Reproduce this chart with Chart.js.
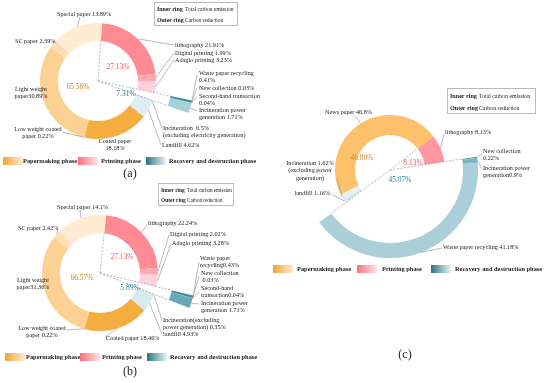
<!DOCTYPE html>
<html>
<head>
<meta charset="utf-8">
<script src="https://cdn.jsdelivr.net/npm/chart.js@4"></script>
<style>
  body { margin: 0; background: #fff; }
  #page { position: relative; width: 550px; height: 383px; overflow: hidden; }
  #page canvas { position: absolute; left: 0; top: 0; }
</style>
</head>
<body>
<div id="page">
  <canvas id="chartA" width="550" height="383"></canvas>
  <canvas id="chartB" width="550" height="383"></canvas>
  <canvas id="chartC" width="550" height="383"></canvas>
</div>
<script>
// ---- data -------------------------------------------------------------
const phaseNames = ['Papermaking phase', 'Printing phase', 'Recovery and destruction phase'];

// panel (a) and (b) share the same items, clockwise from the printing phase
const itemsAB = ['lithography', 'Digital printing', 'Adagio printing', 'Waste paper recycling',
  'New collection', 'Second-hand transaction', 'Incineration power generation', 'Incineration',
  'Landfill', 'Coated paper', 'Low weight coated paper', 'Light weight paper', 'SC paper', 'Special paper'];
const valuesA = [21.91, 1.99, 3.23, 0.41, 0.03, 0.04, 1.71, 0.5, 4.62, 18.18, 0.22, 30.89, 2.39, 13.89];
const valuesB = [22.24, 2.02, 3.28, 0.43, 0.03, 0.04, 1.71, 0.35, 4.93, 18.46, 0.22, 31.36, 2.42, 14.1];
// inner ring totals: printing, recovery, papermaking
const phaseA = [27.13, 7.31, 65.56];
const phaseB = [27.13, 5.89, 66.57];
// which ring an item sits on: 0 = detached outer ring, 2 = main ring
const ringAB = [2, 2, 2, 0, 0, 0, 0, 2, 2, 2, 2, 2, 2, 2];

const itemsC = ['lithography', 'New collection', 'Incineration power generation', 'Waste paper recycling',
  'landfill', 'Incineration', 'News paper'];
const valuesC = [8.13, 0.22, 0.9, 41.18, 1.16, 1.62, 46.8];
const phaseC = [8.13, 45.07, 46.8];
const ringC = [2, 0, 0, 0, 2, 2, 2];

const textA = [['lithography {v}%'], ['Digital printing {v}%'], ['Adagio printing {v}%'],
  ['Waste paper recycling', '{v}%'], ['New collection {v}%'], ['Second-hand transaction', '{v}%'],
  ['Incineration power', 'generation {v}%'], ['Incineration  {v}%', '(excluding electricity generation)'],
  ['Landfill {v}%'], ['Coated paper', '{v}%'], ['Low weight coated', 'paper {v}%'],
  ['Light weight', 'paper{v}%'], ['SC paper {v}%'], ['Special paper {v}%']];
const textB = [['lithography {v}%'], ['Digital printing {v}%'], ['Adagio printing {v}%'],
  ['Waste paper', 'recycling{v}%'], ['New collection', ' {v}%'], ['Second-hand', 'transaction{v}%'],
  ['Incineration power', 'generation {v}%'], ['Incineration(excluding', 'power generation) {v}%'],
  ['landfill {v}%'], ['Coated paper {v}%'], ['Low weight coated', 'paper {v}%'],
  ['Light weight', 'paper{v}%'], ['SC paper {v}%'], ['Special paper {v}%']];
const textC = [['lithography {v}%'], ['New collection', '{v}%'], ['Incineration power', 'generation{v}%'],
  ['Waste paper recycling {v}%'], ['landfill {v}%'], ['Incineration {v}%', '(excluding power', 'generation)'],
  ['News paper {v}%']];

// ---- styles -----------------------------------------------------------
const colorsA = ['#FF8A94', '#FFA9B2', '#FFD3D9', '#3E8B99', '#5C9EAA', '#70AAB5', '#A9CFD8',
  '#CDE5EB', '#DDEEF2', '#F6AD3F', '#F9C57E', '#FDD194', '#FEDFB4', '#FFEBD2'];
const colorsB = ['#FF8A94', '#FFA9B2', '#FFD3D9', '#3E8B99', '#4F97A6', '#5FA0AE', '#6AA8B6',
  '#CDE5EB', '#D6EAF0', '#F6AD3F', '#F9C57E', '#FDD194', '#FEDFB4', '#FFEBD2'];
const colorsC = ['#FF97A0', '#4E96A5', '#7DB4C1', '#AACFD9', '#D5EAF0', '#E3F1F5', '#FDC16C'];
const phaseText = ['#F0506A', '#2A8496', '#C8861C'];  // printing, recovery, papermaking
const grads = [['#F2A23A', '#FFEBCF'], ['#FF6E7D', '#FFE4E8'], ['#2F737F', '#E9F4F6']];
const SERIF = '"Liberation Serif", "Times New Roman", serif';

// ---- layout (page pixels) ---------------------------------------------
const layoutA = {
  cx: 98, cy: 81, rot: 4, R: 96, w: [22, 16, 18, 40],
  cuts: [[0, 'start', 2], [3, 'start', 0], [6, 'end', 0]],
  pos: [[175, 45, 'left', 174, 45], [175, 53, 'left', 174, 53], [175, 60, 'left', 174, 60],
    [199, 73, 'left', 197, 75], [199, 88, 'left', 197, 88], [199, 96, 'left', 197, 97],
    [199, 110, 'left', 197, 111], [163, 128, 'left', 162, 128], [162, 145, 'left', 161, 145],
    [115, 141, 'center'], [38, 129, 'center', 62, 132], [31, 89, 'center'],
    [15, 41, 'left', 54, 41], [57, 14, 'left', 80, 17]],
  center: [[118, 67], [126, 94], [78, 87]],
  box: {x: 154, y: 2, w: 83, h: 23, tx: 185, fs: 5.8},
  legend: {y: 161, sw: [3, 78, 146], tx: [23, 101, 169]},
  tag: ['(a)', 130, 174]
};
const layoutB = {
  cx: 100, cy: 273, rot: 6, R: 96, w: [22, 16, 18, 40],
  cuts: [[0, 'start', 2], [3, 'start', 0], [6, 'end', 0]],
  pos: [[148, 223, 'left', 147, 225], [170, 234, 'left', 169, 235], [172, 243, 'left', 171, 244],
    [200, 258, 'left', 199, 262], [201, 273, 'left', 199, 276], [201, 288, 'left', 199, 292],
    [201, 303, 'left', 199, 304], [163, 320, 'left', 162, 320], [163, 334, 'left', 162, 334],
    [106, 338, 'left', 105, 337], [42, 328, 'center', 66, 330], [33, 280, 'center'],
    [18, 228, 'left', 58, 229], [57, 207, 'left', 80, 210]],
  center: [[122, 257], [130, 288], [82, 278]],
  box: {x: 158, y: 183, w: 75, h: 22, tx: 187, fs: 5.4},
  legend: {y: 357, sw: [5, 80, 147], tx: [26, 102, 170]},
  tag: ['(b)', 130, 372]
};
const layoutC = {
  cx: 390, cy: 170, rot: 52, R: 88, w: [15, 18, 20, 35],
  cuts: [[0, 'start', 2], [1, 'start', 0], [3, 'end', 0]],
  pos: [[445, 132, 'left', 444, 134], [483, 151, 'left', 482, 154], [483, 168, 'left', 482, 169],
    [443, 247, 'left', 442, 248], [330, 193, 'right', 331, 194], [310, 163, 'center', 337, 178],
    [325, 112, 'left', 355, 116]],
  center: [[413, 163], [400, 180], [362, 158]],
  box: {x: 447, y: 88, w: 88, h: 25, tx: 479, fs: 6.1},
  legend: {y: 269, sw: [273, 357, 431], tx: [297, 382, 455]},
  tag: ['(c)', 405, 355]
};

// ---- drawing ----------------------------------------------------------
function drawExtras(chart, P) {
  const ctx = chart.ctx;
  const L = P.layout;
  const metas = [0, 1, 2, 3].map(i => chart.getDatasetMeta(i).data);
  ctx.save();

  // dashed sector borders of the inner ring / detached wedge
  ctx.strokeStyle = '#9a9a9a';
  ctx.lineWidth = 0.7;
  ctx.setLineDash([2, 1.5]);
  L.cuts.forEach(([i, side, ds]) => {
    const arc = metas[2][i];
    const a = side === 'start' ? arc.startAngle : arc.endAngle;
    const r = metas[ds][i].innerRadius;
    ctx.beginPath();
    ctx.moveTo(arc.x, arc.y);
    ctx.lineTo(arc.x + r * Math.cos(a), arc.y + r * Math.sin(a));
    ctx.stroke();
  });
  ctx.setLineDash([]);

  // item labels with leader lines
  ctx.font = '6.2px ' + SERIF;
  ctx.textBaseline = 'middle';
  P.text.forEach((lines, i) => {
    const [x, y, align, ax, ay] = L.pos[i];
    if (ax !== undefined) {
      const arc = metas[P.ring[i]][i];
      const a = (arc.startAngle + arc.endAngle) / 2;
      ctx.strokeStyle = '#8c8c8c';
      ctx.lineWidth = 0.6;
      ctx.beginPath();
      ctx.moveTo(ax, ay);
      ctx.lineTo(arc.x + arc.outerRadius * Math.cos(a), arc.y + arc.outerRadius * Math.sin(a));
      ctx.stroke();
    }
    ctx.fillStyle = '#222';
    ctx.textAlign = align;
    lines.forEach((t, k) => ctx.fillText(t.replace('{v}', String(P.values[i])), x, y + k * 7.5));
  });

  // inner ring totals
  ctx.font = '7.5px ' + SERIF;
  ctx.textAlign = 'center';
  P.phase.forEach((v, i) => {
    ctx.fillStyle = phaseText[i];
    ctx.fillText(v.toFixed(2) + '%', L.center[i][0], L.center[i][1]);
  });

  // ring key box
  const B = L.box;
  ctx.strokeStyle = '#a8a8a8';
  ctx.lineWidth = 0.8;
  ctx.strokeRect(B.x + 0.5, B.y + 0.5, B.w, B.h);
  ctx.textAlign = 'left';
  ctx.fillStyle = '#222';
  ctx.font = 'bold ' + B.fs + 'px ' + SERIF;
  ctx.fillText('Inner ring', B.x + 3, B.y + B.h * 0.33);
  ctx.fillText('Outer ring', B.x + 3, B.y + B.h * 0.8);
  ctx.font = (B.fs - 0.3) + 'px ' + SERIF;
  ctx.fillText('Total carbon emission', B.tx, B.y + B.h * 0.33);
  ctx.fillText('Carbon reduction', B.tx, B.y + B.h * 0.8);

  // legend
  ctx.font = 'bold 6.4px ' + SERIF;
  phaseNames.forEach((name, i) => {
    const x = L.legend.sw[i];
    const g = ctx.createLinearGradient(x, 0, x + 20, 0);
    g.addColorStop(0, grads[i][0]);
    g.addColorStop(1, grads[i][1]);
    ctx.fillStyle = g;
    ctx.fillRect(x, L.legend.y - 4, 20, 8);
    ctx.fillStyle = '#222';
    ctx.fillText(name, L.legend.tx[i], L.legend.y);
  });

  // panel tag
  ctx.font = '12px ' + SERIF;
  ctx.textAlign = 'center';
  ctx.fillText(L.tag[0], L.tag[1], L.tag[2]);
  ctx.restore();
}

function ringChart(id, P) {
  const L = P.layout;
  const W = 550, H = 383;
  const outerColors = P.colors.map((c, i) => P.ring[i] === 0 ? c : 'rgba(0,0,0,0)');
  const mainColors = P.colors.map((c, i) => P.ring[i] === 2 ? c : 'rgba(0,0,0,0)');
  new Chart(document.getElementById(id), {
    type: 'doughnut',
    data: {
      labels: P.items,
      datasets: [
        {data: P.values, backgroundColor: outerColors, weight: L.w[0], clip: false},
        {data: P.values, backgroundColor: 'rgba(0,0,0,0)', weight: L.w[1], clip: false},
        {data: P.values, backgroundColor: mainColors, weight: L.w[2], clip: false},
        {data: P.phase, backgroundColor: 'rgba(0,0,0,0)', weight: L.w[3], clip: false}
      ]
    },
    options: {
      responsive: false,
      animation: false,
      radius: L.R,
      cutout: 0,
      rotation: L.rot,
      elements: {arc: {borderWidth: 0}},
      layout: {
        padding: {
          left: Math.max(0, 2 * L.cx - W), right: Math.max(0, W - 2 * L.cx),
          top: Math.max(0, 2 * L.cy - H), bottom: Math.max(0, H - 2 * L.cy)
        }
      },
      events: [],
      plugins: {legend: {display: false}, tooltip: {enabled: false}}
    },
    plugins: [{id: 'extras', afterDatasetsDraw(chart) { drawExtras(chart, P); }}]
  });
}

ringChart('chartA', {items: itemsAB, values: valuesA, phase: phaseA, ring: ringAB,
  colors: colorsA, text: textA, layout: layoutA});
ringChart('chartB', {items: itemsAB, values: valuesB, phase: phaseB, ring: ringAB,
  colors: colorsB, text: textB, layout: layoutB});
ringChart('chartC', {items: itemsC, values: valuesC, phase: phaseC, ring: ringC,
  colors: colorsC, text: textC, layout: layoutC});
</script>
</body>
</html>
